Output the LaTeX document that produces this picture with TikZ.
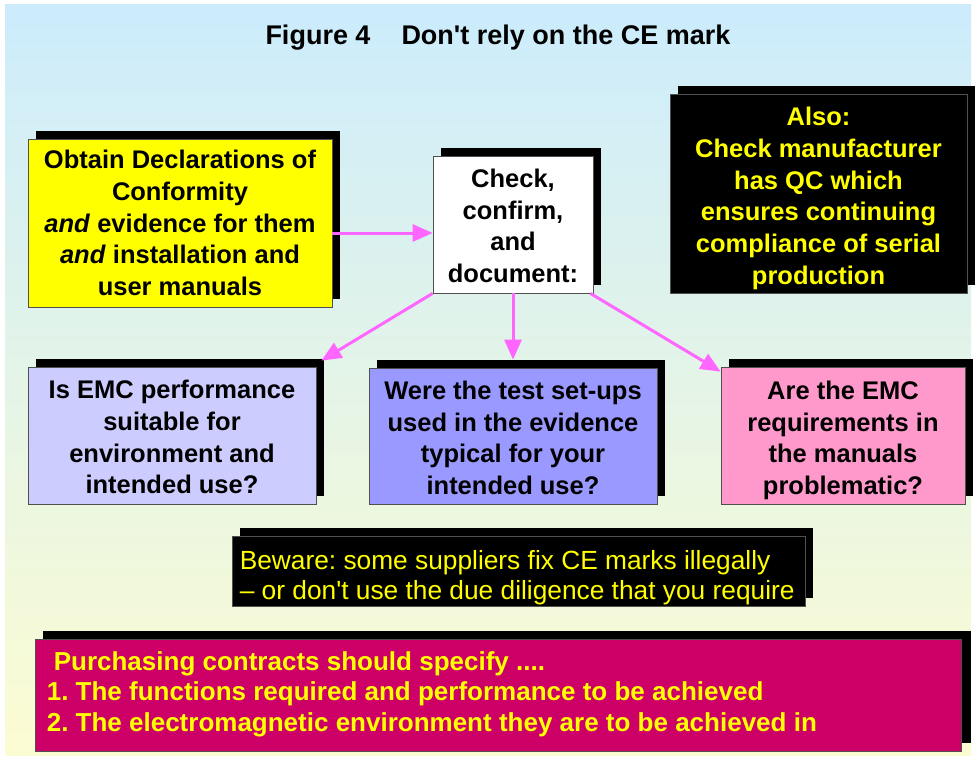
\documentclass[tikz,border=0pt]{standalone}
\usepackage{fontspec}
\setmainfont{Liberation Sans}
\usetikzlibrary{arrows.meta,shadows}

\definecolor{bgtop}{RGB}{204,236,252}
\definecolor{bgbot}{RGB}{252,252,210}
\definecolor{arrowpink}{RGB}{255,102,255}
\definecolor{docyellow}{RGB}{255,255,0}
\definecolor{lavender}{RGB}{204,204,255}
\definecolor{periwinkle}{RGB}{153,153,255}
\definecolor{rosepink}{RGB}{255,153,204}
\definecolor{crimson}{RGB}{204,0,102}
\definecolor{edgegray}{RGB}{80,80,80}

\frenchspacing
% invisible strut that lowers the first line of a box
\newcommand{\toppad}[1]{\rule{0pt}{#1}}
\begin{document}
\begin{tikzpicture}[x=1pt,y=-1pt,
  panel/.style={draw=edgegray, line width=0.8pt, inner sep=0pt,
    drop shadow={shadow xshift=8pt, shadow yshift=8pt, fill=black, opacity=1}},
  box/.style={panel, align=center,
    font=\fontsize{25.5}{31.7}\selectfont\bfseries},
  link/.style={draw=arrowpink, line width=3pt,
    -{Triangle[length=20pt,width=17pt]}}]

  % page and shaded background
  \useasboundingbox (0,0) rectangle (976,760);
  \fill[white] (0,0) rectangle (976,760);
  \shade[top color=bgtop, bottom color=bgbot] (5,5) rectangle (971,755);

  % title
  \node[font=\fontsize{27}{30}\selectfont\bfseries] (title) at (498,38)
    {Figure 4\hspace{31pt}Don\textquotesingle t rely on the CE mark};

  % upper row
  \node[box, fill=docyellow, minimum width=304pt, minimum height=168pt] (decl) at (180,223)
    {Obtain Declarations of\\Conformity\\\textit{and} evidence for them\\\textit{and} installation and\\user manuals};
  \node[box, fill=white, minimum width=160pt, minimum height=137pt] (check) at (513,224.5)
    {\toppad{21pt}Check,\\confirm,\\and\\document:};
  \node[box, fill=black, text=docyellow, minimum width=297pt, minimum height=199pt] (also) at (818.5,193.5)
    {\toppad{28pt}Also:\\Check manufacturer\\has QC which\\ensures continuing\\compliance of serial\\production};

  % questions
  \node[box, fill=lavender, minimum width=288pt, minimum height=137pt] (lav) at (172,435.5)
    {\toppad{22pt}Is EMC performance\\suitable for\\environment and\\intended use?};
  \node[box, fill=periwinkle, minimum width=288pt, minimum height=136pt] (blue) at (513,436)
    {\toppad{22pt}Were the test set-ups\\used in the evidence\\typical for your\\intended use?};
  \node[box, fill=rosepink, minimum width=244pt, minimum height=137pt] (pink) at (843,435.5)
    {\toppad{28pt}Are the EMC\\requirements in\\the manuals\\problematic?};

  % warning
  \node[panel, fill=black, minimum width=573pt, minimum height=70pt] (beware) at (518.5,571) {};
  \node[anchor=west, inner sep=0pt, text=docyellow, align=left,
        font=\fontsize{26.3}{30}\selectfont] (bewaretext) at ([xshift=8pt,yshift=-7pt]beware.west)
    {Beware: some suppliers fix CE marks illegally\\
     – or don\textquotesingle t use the due diligence that you require};

  % contracts
  \node[panel, fill=crimson, minimum width=926pt, minimum height=112pt,
        drop shadow={shadow xshift=10pt, shadow yshift=8pt, fill=black, opacity=1}]
        (contract) at (498,695) {};
  \node[anchor=west, inner sep=0pt, text=docyellow, align=left,
        font=\fontsize{26}{30.5}\selectfont\bfseries] (contracttext)
        at ([xshift=12pt,yshift=1pt]contract.west)
    {\hspace*{7pt}Purchasing contracts should specify ....\\
     1. The functions required and performance to be achieved\\
     2. The electromagnetic environment they are to be achieved in};

  % connectors
  \draw[link] ([yshift=-10pt]decl.east) -- ([yshift=-10pt]decl.east -| check.west);
  \draw[link] (check.south west) -- ([xshift=5pt,yshift=6pt]lav.north east);
  \draw[link] (check.south) -- ([yshift=8pt]blue.north);
  \draw[link] ([xshift=-3pt]check.south east) -- ([yshift=-5pt]pink.north west);
\end{tikzpicture}
\end{document}
